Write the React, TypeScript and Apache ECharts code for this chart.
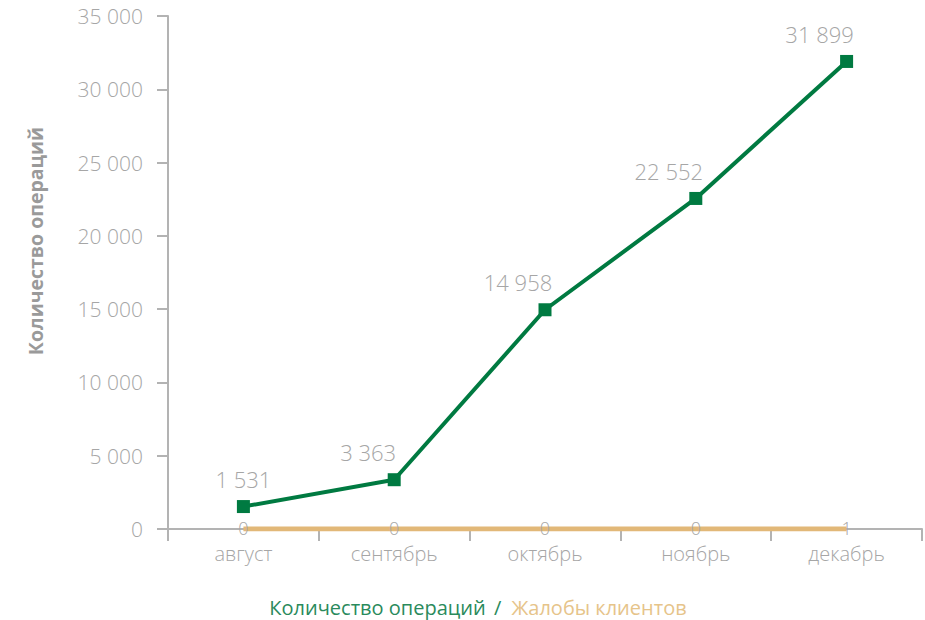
import React, { useEffect, useRef } from "react";
import * as echarts from "echarts";

const months = ["август", "сентябрь", "октябрь", "ноябрь", "декабрь"];
const operations = [1531, 3363, 14958, 22552, 31899];
const complaints = [0, 0, 0, 0, 1];
// horizontal shift of the value labels above the operations line
const labelShift = [0, -26, -27, -27, -27];

const AXIS = "#b3b3b3";
const GREEN = "#007a41";
const ORANGE = "#e2b878";
const FONT = "'Open Sans', sans-serif";

const fmt = (v: number) => String(v).replace(/\B(?=(\d{3})+(?!\d))/g, " ");

export default function App() {
  const ref = useRef<HTMLDivElement>(null);
  useEffect(() => {
    const chart = echarts.init(ref.current!, null, { renderer: "svg" });
    chart.setOption({
      animation: false,
      textStyle: { fontFamily: FONT },
      grid: { left: 168, right: 3, top: 16, bottom: 91 },
      xAxis: {
        type: "category",
        data: months,
        boundaryGap: true,
        axisLine: { lineStyle: { color: AXIS, width: 2 } },
        axisTick: { show: true, length: 12, lineStyle: { color: AXIS, width: 2 } },
        axisLabel: { color: "#a6a6a6", fontSize: 20, fontFamily: FONT, fontWeight: 300, margin: 14 },
      },
      yAxis: {
        type: "value",
        min: 0,
        max: 35000,
        interval: 5000,
        axisLine: { show: true, lineStyle: { color: AXIS, width: 2 } },
        axisTick: { show: true, length: 11, lineStyle: { color: AXIS, width: 2 } },
        splitLine: { show: false },
        axisLabel: {
          color: "#a6a6a6",
          fontSize: 21,
          fontFamily: FONT,
          fontWeight: 300,
          margin: 25,
          formatter: (v: number) => fmt(v),
        },
      },
      series: [
        {
          name: "Количество операций",
          type: "line",
          data: operations.map((v, i) => ({
            value: v,
            label: { offset: [labelShift[i], 0] },
          })),
          z: 3,
          symbol: "rect",
          symbolSize: 13,
          lineStyle: { color: GREEN, width: 4 },
          itemStyle: { color: GREEN },
          label: {
            show: true,
            position: "top",
            distance: 10,
            color: "#a6a6a6",
            fontSize: 22,
            fontFamily: FONT,
            fontWeight: 300,
            formatter: (p: any) => fmt(p.value),
          },
        },
        {
          name: "Жалобы клиентов",
          type: "line",
          data: complaints,
          z: 2,
          symbol: "circle",
          symbolSize: 0,
          showSymbol: true,
          lineStyle: { color: ORANGE, width: 5 },
          itemStyle: { color: ORANGE },
          label: {
            show: true,
            position: "inside",
            offset: [0, -1],
            color: "#a6a6a6",
            fontSize: 18,
            lineHeight: 12,
            fontFamily: FONT,
            fontWeight: 300,
          },
        },
      ],
      graphic: [
        {
          type: "text",
          x: 35,
          y: 241,
          rotation: Math.PI / 2,
          style: {
            text: "Количество операций",
            fill: "#9a9a9a",
            font: `bold 19.5px ${FONT}`,
            align: "center",
            verticalAlign: "middle",
          },
        },
        {
          type: "text",
          x: 478,
          y: 607,
          style: {
            text: "{a|Количество операций}{s| / }{b|Жалобы клиентов}",
            align: "center",
            verticalAlign: "middle",
            rich: {
              a: { fill: "#2a8a5c", fontSize: 20, fontFamily: FONT },
              s: { fill: "#2a8a5c", fontSize: 20, fontFamily: FONT, padding: [0, 5, 0, 3] },
              b: { fill: "#e6c48a", fontSize: 20, fontFamily: FONT },
            },
          },
        },
      ],
    });
    return () => chart.dispose();
  }, []);
  return <div ref={ref} style={{ width: 925, height: 620, position: "absolute", left: 0, top: 0 }} />;
}
